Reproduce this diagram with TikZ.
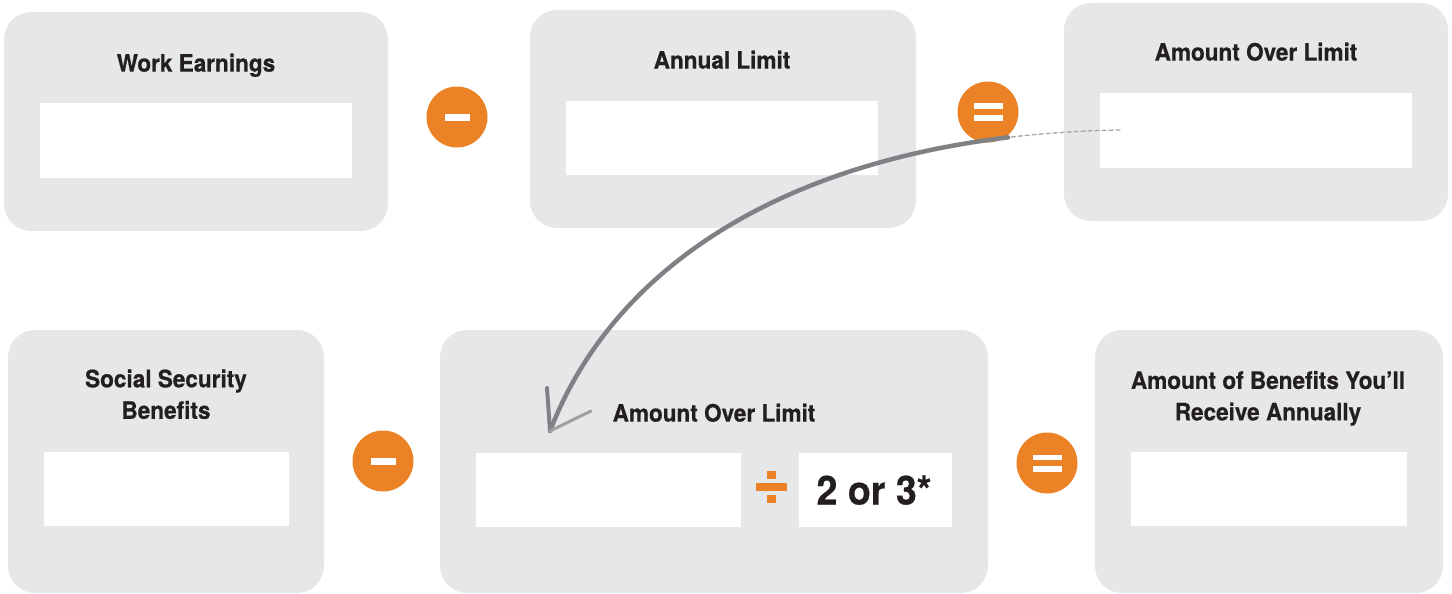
\documentclass[tikz,border=0pt]{standalone}
\usepackage{fontspec}
\setmainfont{TeX Gyre Heros}[FakeStretch=0.94, BoldFeatures={FakeBold=0.6}]
\usetikzlibrary{calc}
\definecolor{boxgray}{HTML}{E6E7E8}
\definecolor{orng}{HTML}{EB8226}
\definecolor{ink}{HTML}{231F20}
\definecolor{arrowgray}{HTML}{808184}
\begin{document}
\begin{tikzpicture}[x=1pt,y=-1pt,
  panel/.style={fill=boxgray, rounded corners=27pt, inner sep=0pt, draw=none},
  field/.style={fill=white, inner sep=0pt, draw=none},
  title/.style={text=ink, font=\bfseries\fontsize{24}{31.5}\selectfont, align=center, anchor=base, inner sep=0pt},
  bigtext/.style={text=ink, font=\bfseries\fontsize{40}{44}\selectfont, anchor=base, inner sep=0pt},
  opcircle/.style={circle, fill=orng, minimum size=61pt, inner sep=0pt, draw=none},
  opbar/.style={fill=white},
  divbar/.style={fill=orng},
  sketch/.style={arrowgray, line width=4.5pt, line cap=round},
  sketchfaint/.style={arrowgray!70, line width=1.3pt, dash pattern=on 4pt off 3pt, line cap=round}
]
\useasboundingbox (0,0) rectangle (1452,594);

% top row
\node[panel, minimum width=384pt, minimum height=219pt] (b1) at (196,121.5) {};
\node[field, minimum width=312pt, minimum height=75pt] (f1) at (196,140.5) {};
\node[title] (t1) at (196,71.6) {Work Earnings};

\node[panel, minimum width=386pt, minimum height=218pt] (b2) at (723,119) {};
\node[field, minimum width=312pt, minimum height=74pt] (f2) at (722,138) {};
\node[title] (t2) at (722,68.6) {Annual Limit};

\node[panel, minimum width=384pt, minimum height=218pt] (b3) at (1256,112) {};
\node[field, minimum width=312pt, minimum height=75pt] (f3) at (1256,130.5) {};
\node[title] (t3) at (1256,60.6) {Amount Over Limit};

% bottom row
\node[panel, minimum width=316pt, minimum height=263pt] (b4) at (166,461.5) {};
\node[field, minimum width=245pt, minimum height=74pt] (f4) at (166.5,489) {};
\node[title] (t4) at (166,418.8) {Social Security\\Benefits};

\node[panel, minimum width=548pt, minimum height=263pt] (b5) at (714,461.5) {};
\node[field, minimum width=265pt, minimum height=74pt] (f5) at (608.5,490) {};
\node[field, minimum width=153pt, minimum height=74pt] (f5r) at (875.5,490) {};
\node[title] (t5) at (714,421.6) {Amount Over Limit};
\node[bigtext] (t5r) at (874,504.5) {2 or 3*};

\node[panel, minimum width=348pt, minimum height=263pt] (b6) at (1269,461.5) {};
\node[field, minimum width=276pt, minimum height=74pt] (f6) at (1269,489) {};
\node[title] (t6) at (1268,420.4) {Amount of Benefits You’ll\\Receive Annually};

% divide sign
\coordinate (dv) at (771.5,487);
\fill[divbar] ($(dv)+(-4.5,-16)$) rectangle ($(dv)+(4.5,-8)$);
\fill[divbar] ($(dv)+(-15.5,-4)$) rectangle ($(dv)+(15.5,4)$);
\fill[divbar] ($(dv)+(-4.5,8)$) rectangle ($(dv)+(4.5,16)$);

% operators
\node[opcircle] (m1) at (457,117) {};
\fill[opbar] ($(m1)+(-12.5,-3.5)$) rectangle ($(m1)+(12.5,3.5)$);
\node[opcircle] (e1) at (988,112) {};
\fill[opbar] ($(e1)+(-14.5,-8.5)$) rectangle ($(e1)+(14.5,-3)$);
\fill[opbar] ($(e1)+(-14.5,3)$) rectangle ($(e1)+(14.5,8.5)$);
\node[opcircle] (m2) at (383,461) {};
\fill[opbar] ($(m2)+(-12.5,-3.5)$) rectangle ($(m2)+(12.5,3.5)$);
\node[opcircle] (e2) at (1047,463) {};
\fill[opbar] ($(e2)+(-14.5,-8.5)$) rectangle ($(e2)+(14.5,-3)$);
\fill[opbar] ($(e2)+(-14.5,3)$) rectangle ($(e2)+(14.5,8.5)$);

% sketched arrow
\coordinate (arrS) at (1120,130);
\coordinate (arrM) at (1008,137.4);
\coordinate (arrT) at (550,431);
\coordinate (armL) at (547,388);
\coordinate (armR) at (591,411);
\draw[sketchfaint] (arrS) .. controls (1081,130.65) and (1043.7,133.2) .. (arrM);
\draw[sketch] (arrM) .. controls (770.2,166) and (610.9,273.4) .. (arrT);
\draw[sketch, line width=4pt] (arrT) -- (armL);
\draw[sketch, arrowgray!75, line width=3pt] (arrT) -- (armR);
\end{tikzpicture}
\end{document}
